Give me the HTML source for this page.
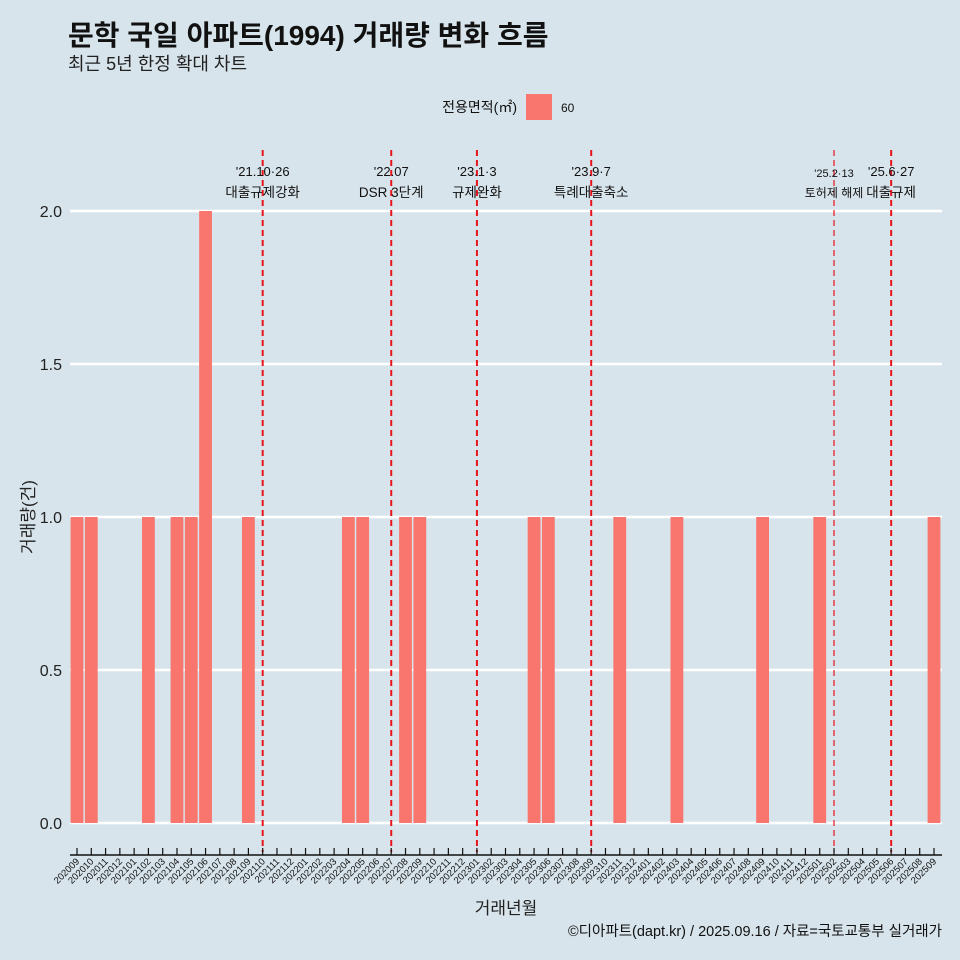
<!DOCTYPE html>
<html><head><meta charset="utf-8">
<style>
body{margin:0;background:#d7e4eb;}
svg{display:block;font-family:"Liberation Sans","Noto Sans CJK KR",sans-serif;}
</style></head>
<body>
<svg id="chart" width="960" height="960" viewBox="0 0 960 960">
<rect width="960" height="960" fill="#d7e4eb"/>
<text x="68" y="45" font-size="28" font-weight="bold" fill="#111">문학 국일 아파트(1994) 거래량 변화 흐름</text>
<text x="68" y="70" font-size="18" fill="#222">최근 5년 한정 확대 차트</text>
<g>
<text x="517" y="112" font-size="14" text-anchor="end" fill="#111">전용면적(㎡)</text>
<rect x="526" y="94" width="26" height="26" fill="#f8766d"/>
<text x="561" y="112" font-size="12" fill="#111">60</text>
</g>
<g id="grid"></g><g id="bars"></g><g id="events"></g><g id="xaxis"></g><g id="yaxis"></g>
<text transform="translate(34,517) rotate(-90)" font-size="17" text-anchor="middle" fill="#222">거래량(건)</text>
<text x="506" y="914" font-size="17" text-anchor="middle" fill="#222">거래년월</text>
<text x="942" y="936" font-size="14.5" text-anchor="end" fill="#111">©디아파트(dapt.kr) / 2025.09.16 / 자료=국토교통부 실거래가</text>
</svg>
<script>
const months=[];for(let y=2020;y<=2025;y++)for(let m=1;m<=12;m++){const s=y*100+m;if(s>=202009&&s<=202509)months.push(String(s));}
const barMonths=["202009","202010","202102","202104","202105","202106","202109","202204","202205","202208","202209","202305","202306","202311","202403","202409","202501","202509"];
const barValues=[1,1,1,1,1,2,1,1,1,1,1,1,1,1,1,1,1,1];
const yTicks=[0,0.5,1,1.5,2];
const yTickLabels=["0.0","0.5","1.0","1.5","2.0"];
const eventMonths=["202110","202207","202301","202309","202502","202506"];
const eventLine1=["'21.10·26","'22.07","'23.1·3","'23.9·7","'25.2·13","'25.6·27"];
const eventLine2=["대출규제강화","DSR 3단계","규제완화","특례대출축소","토허제 해제","대출규제"];
const NS="http://www.w3.org/2000/svg";
const x0=77,step=(934-77)/60,bw=12.8;
const xs=m=>x0+months.indexOf(m)*step;
const ys=v=>823-v*306;
function mk(t,a,p){const e=document.createElementNS(NS,t);for(const k in a)e.setAttribute(k,a[k]);document.getElementById(p).appendChild(e);return e;}
yTicks.forEach((v,i)=>{
 const l=mk('line',{x1:70,x2:942,y1:ys(v),y2:ys(v),stroke:'#fff','stroke-width':2.5},'grid');
 
 
 const t=mk('text',{x:62,y:ys(v)+6,'font-size':16,'text-anchor':'end',fill:'#222'},'yaxis');t.textContent=yTickLabels[i];
 
 
});
barMonths.forEach((m,i)=>{
 const r=mk('rect',{x:xs(m)-bw/2,y:ys(barValues[i]),width:bw,height:ys(0)-ys(barValues[i]),fill:'#f8766d'},'bars');
 
 
});
eventMonths.forEach((m,i)=>{
 const x=xs(m);
 const l=mk('line',{x1:x,x2:x,y1:150,y2:852,stroke:'#e8141c','stroke-width':i==4?1.2:2,'stroke-dasharray':'6,4'},'events');
 
 
 const fs=i==4?11:13;
 const t1=mk('text',{x:x,y:i==4?177:176,'font-size':fs,'text-anchor':'middle',fill:'#111'},'events');t1.textContent=eventLine1[i];
 
 
 const t2=mk('text',{x:x,y:197,'font-size':i==4?12:13.5,'text-anchor':'middle',fill:'#111'},'events');t2.textContent=eventLine2[i];
 
 
});
const ax=mk('line',{x1:70,x2:942,y1:855,y2:855,stroke:'#111','stroke-width':1.5},'xaxis');


months.forEach(m=>{
 const x=xs(m);
 mk('line',{x1:x,x2:x,y1:848,y2:855,stroke:'#111','stroke-width':1.2},'xaxis');
 const t=mk('text',{transform:`translate(${x+3},${862}) rotate(-45)`,'font-size':9.5,'text-anchor':'end',fill:'#111'},'xaxis');t.textContent=m;
 
 
});
</script>
</body></html>
